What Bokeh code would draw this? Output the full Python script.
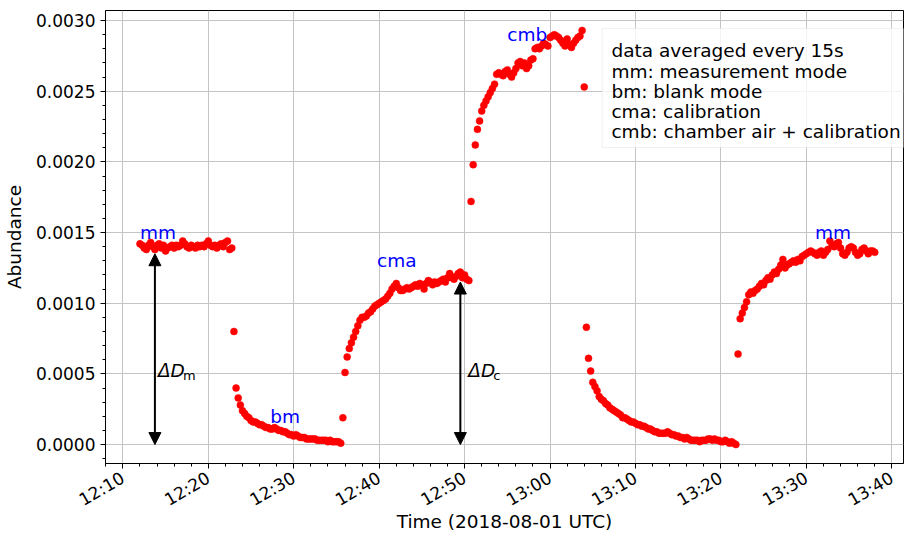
import math
from datetime import datetime, timezone
from bokeh.plotting import figure
from bokeh.models import (ColumnDataSource, FixedTicker, DatetimeTickFormatter,
                          PrintfTickFormatter, Range1d, Label, Arrow, NormalHead,
                          BoxAnnotation)
from bokeh.embed import file_html
from bokeh.resources import INLINE

# ---------------- data (15 s averages, 2018-08-01 UTC) ----------------
STEP_S = 15

mm1_start = "12:12:00"
mm1 = [0.00142, 0.00141, 0.00139, 0.00138, 0.00141, 0.00143, 0.00140, 0.00138,
       0.00141, 0.00142, 0.00139, 0.00141, 0.00137, 0.00139, 0.00140, 0.00141,
       0.00139, 0.00141, 0.00140, 0.00141, 0.00144, 0.00142, 0.00140, 0.00139,
       0.00141, 0.00140, 0.00139, 0.00141, 0.00140, 0.00141, 0.00140, 0.00142,
       0.00144, 0.00141, 0.00140, 0.00141, 0.00139, 0.00141, 0.00142, 0.00140,
       0.00143, 0.00144, 0.00138, 0.00139, 0.00080]

bm1_start = "12:23:15"
bm1 = [0.00040, 0.00033, 0.00028, 0.00024, 0.00022, 0.00020, 0.00019, 0.00017,
       0.00016, 0.00016, 0.00015, 0.00014, 0.00014, 0.00013, 0.00012, 0.00012,
       0.00011, 0.00011, 0.00012, 0.00011, 0.00010, 0.00010, 0.00009, 0.00009,
       0.00008, 0.00007, 0.00007, 0.00006, 0.00007, 0.00006, 0.00005, 0.00005,
       0.00005, 0.00004, 0.00004, 0.00004, 0.00004, 0.00004, 0.00003, 0.00003,
       0.00003, 0.00003, 0.00003, 0.00002, 0.00003, 0.00002, 0.00002, 0.00002,
       0.00002, 0.00001, 0.00019]

cma_start = "12:36:00"
cma = [0.00051, 0.00062, 0.00068, 0.00072, 0.00076, 0.00080, 0.00084, 0.00088,
       0.00090, 0.00090, 0.00091, 0.00093, 0.00094, 0.00096, 0.00098, 0.00099,
       0.00100, 0.00101, 0.00102, 0.00103, 0.00105, 0.00107, 0.00110, 0.00112,
       0.00114, 0.00111, 0.00109, 0.00109, 0.00110, 0.00111, 0.00110, 0.00111,
       0.00112, 0.00113, 0.00112, 0.00114, 0.00113, 0.00110, 0.00114, 0.00116,
       0.00115, 0.00113, 0.00115, 0.00114, 0.00115, 0.00116, 0.00117, 0.00115,
       0.00118, 0.00121, 0.00118, 0.00117, 0.00119, 0.00121, 0.00122, 0.00118,
       0.00120, 0.00117, 0.00116]

cmb_start = "12:50:45"
cmb = [0.00172, 0.00198, 0.00212, 0.00223, 0.00229, 0.00236, 0.00240, 0.00243,
       0.00246, 0.00249, 0.00252, 0.00255, 0.00262, 0.00263, 0.00262, 0.00261,
       0.00264, 0.00265, 0.00262, 0.00260, 0.00263, 0.00266, 0.00270, 0.00271,
       0.00268, 0.00270, 0.00266, 0.00268, 0.00272, 0.00273, 0.00280, 0.00281,
       0.00280, 0.00282, 0.00284, 0.00283, 0.00282, 0.00288, 0.00289, 0.00290,
       0.00289, 0.00288, 0.00286, 0.00284, 0.00282, 0.00287, 0.00283, 0.00281,
       0.00284, 0.00286, 0.00288, 0.00289, 0.00293, 0.00253]

bm2_start = "13:04:15"
bm2 = [0.00083, 0.00061, 0.00052, 0.00044, 0.00041, 0.00038, 0.00034, 0.00032,
       0.00031, 0.00029, 0.00028, 0.00026, 0.00025, 0.00024, 0.00023, 0.00022,
       0.00021, 0.00019, 0.00019, 0.00018, 0.00017, 0.00016, 0.00016, 0.00015,
       0.00014, 0.00014, 0.00013, 0.00013, 0.00012, 0.00011, 0.00011, 0.00010,
       0.00009, 0.00009, 0.00008, 0.00008, 0.00008, 0.00008, 0.00009, 0.00008,
       0.00007, 0.00007, 0.00006, 0.00006, 0.00005, 0.00005, 0.00004, 0.00005,
       0.00004, 0.00003, 0.00003, 0.00003, 0.00003, 0.00002, 0.00003, 0.00003,
       0.00003, 0.00004, 0.00004, 0.00003, 0.00004, 0.00003, 0.00003, 0.00002,
       0.00002, 0.00003, 0.00002, 0.00001, 0.00002, 0.00001, 0.00000]

mm2_start = "13:22:00"
mm2 = [0.00064, 0.00089, 0.00093, 0.00097, 0.00101, 0.00106, 0.00108, 0.00107,
       0.00109, 0.00110, 0.00112, 0.00114, 0.00113, 0.00116, 0.00118, 0.00117,
       0.00120, 0.00122, 0.00121, 0.00124, 0.00127, 0.00131, 0.00125, 0.00127,
       0.00128, 0.00129, 0.00130, 0.00129, 0.00131, 0.00130, 0.00133, 0.00134,
       0.00135, 0.00136, 0.00137, 0.00136, 0.00135, 0.00134, 0.00136, 0.00137,
       0.00134, 0.00136, 0.00138, 0.00144, 0.00141, 0.00140, 0.00142, 0.00143,
       0.00139, 0.00135, 0.00134, 0.00136, 0.00139, 0.00140, 0.00139, 0.00136,
       0.00134, 0.00135, 0.00138, 0.00139, 0.00137, 0.00135, 0.00137, 0.00137,
       0.00136]

segments = [(mm1_start, mm1), (bm1_start, bm1), (cma_start, cma),
            (cmb_start, cmb), (bm2_start, bm2), (mm2_start, mm2)]

x_tick_labels = ["12:10", "12:20", "12:30", "12:40", "12:50", "13:00",
                 "13:10", "13:20", "13:30", "13:40"]
y_ticks = [0.0, 0.0005, 0.0010, 0.0015, 0.0020, 0.0025, 0.0030]

mode_labels = [("mm", "12:12:00", 0.0015), ("bm", "12:27:15", 0.0002),
               ("cma", "12:39:45", 0.0013), ("cmb", "12:55:00", 0.0029),
               ("mm", "13:31:00", 0.0015)]

info_lines = ["data averaged every 15s", "mm: measurement mode", "bm: blank mode",
              "cma: calibration", "cmb: chamber air + calibration"]

# delta arrows: (time, y_bottom, y_top, subscript, label offset px)
deltas = [("12:13:45", 0.0, 0.00135, "m", 3), ("12:49:30", 0.0, 0.00115, "c", 8)]


def ms(hms):
    h, m, s = (int(v) for v in hms.split(":"))
    return datetime(2018, 8, 1, h, m, s, tzinfo=timezone.utc).timestamp() * 1000.0


xs, ys = [], []
for start, vals in segments:
    t0 = ms(start)
    for i, v in enumerate(vals):
        xs.append(datetime.fromtimestamp((t0 + i * STEP_S * 1000) / 1000.0, tz=timezone.utc).replace(tzinfo=None))
        ys.append(v)

src = ColumnDataSource(data=dict(t=xs, a=ys))

FONT = "DejaVu Sans"

p = figure(width=904, height=536, x_axis_type="datetime",
           output_backend="svg", toolbar_location=None,
           min_border_left=105, min_border_right=1, min_border_top=10,
           min_border_bottom=73)
p.x_range = Range1d(ms("12:07:58"), ms("13:41:22"))
p.y_range = Range1d(-0.000134, 0.003071)

p.background_fill_color = "white"
p.border_fill_color = "white"
p.outline_line_color = "black"
p.outline_line_width = 1
p.outline_line_alpha = 1

# ticks
xmaj = [ms(l + ":00") for l in x_tick_labels]
xmin = [ms("12:08:00") + k * 120000 for k in range(0, 48)]
xticker = FixedTicker(ticks=xmaj, minor_ticks=xmin)
p.xaxis.ticker = xticker
p.xgrid.ticker = xticker
p.xaxis.formatter = DatetimeTickFormatter(minsec="%H:%M", minutes="%H:%M",
                                          hourmin="%H:%M", hours="%H:%M",
                                          days="%H:%M")
yminor = [round(-0.0001 + k * 0.0001, 4) for k in range(0, 33)]
yticker = FixedTicker(ticks=y_ticks, minor_ticks=yminor)
p.yaxis.ticker = yticker
p.ygrid.ticker = yticker
p.yaxis.formatter = PrintfTickFormatter(format="%.4f")

for ax in (p.xaxis, p.yaxis):
    ax.major_label_text_font = FONT
    ax.major_label_text_font_size = "17px"
    ax.major_label_text_color = "black"
    ax.axis_label_text_font = FONT
    ax.axis_label_text_font_size = "18.5px"
    ax.axis_label_text_font_style = "normal"
    ax.axis_label_text_color = "black"
    ax.major_tick_out = 5
    ax.major_tick_in = 0
    ax.minor_tick_out = 3
    ax.minor_tick_in = 0
    ax.major_tick_line_color = "black"
    ax.minor_tick_line_color = "black"
    ax.axis_line_color = "black"

p.xaxis.major_label_orientation = math.pi / 6
p.xaxis.axis_label = "Time (2018-08-01 UTC)"
p.yaxis.axis_label = "Abundance"
p.xaxis.major_label_standoff = 8
p.xaxis.axis_label_standoff = -10
p.yaxis.axis_label_standoff = 8

for g in (p.xgrid, p.ygrid):
    g.grid_line_color = "#c4c4c4"
    g.grid_line_width = 1

p.scatter("t", "a", source=src, size=7, fill_color="#ff0000",
          line_color="#ff0000", line_width=0.5)

for txt, tm, yv in mode_labels:
    p.add_layout(Label(x=ms(tm), y=yv, text=txt, text_color="#0000ff",
                       text_font=FONT, text_font_size="18.5px",
                       text_baseline="alphabetic", text_align="left"))

for tm, y0, y1, sub, off in deltas:
    p.add_layout(Arrow(x_start=ms(tm), y_start=y0, x_end=ms(tm), y_end=y1,
                       line_color="black", line_width=2,
                       start=NormalHead(size=12, fill_color="black", line_color="black"),
                       end=NormalHead(size=12, fill_color="black", line_color="black")))
    p.add_layout(Label(x=ms(tm), y=0.000526, x_offset=off, text="\u0394D",
                       text_font=FONT, text_font_size="18.5px",
                       text_font_style="italic", text_color="black",
                       text_baseline="alphabetic"))
    p.add_layout(Label(x=ms(tm), y=0.000526, x_offset=off + 25, y_offset=-5, text=sub,
                       text_font=FONT, text_font_size="13px",
                       text_color="black", text_baseline="alphabetic"))

# info box
p.add_layout(BoxAnnotation(left=ms("13:06:06"), right=ms("13:50:00"),
                           top=0.002943, bottom=0.002102,
                           fill_color="white", fill_alpha=0.8,
                           line_color="#cccccc", line_width=1, level="overlay"))
for k, line in enumerate(info_lines):
    p.add_layout(Label(x=ms("13:07:11"), y=0.002786 - k * 0.0001435, text=line,
                       text_font=FONT, text_font_size="18.5px",
                       text_color="black", text_baseline="alphabetic",
                       level="overlay"))

open("out.html", "w").write(file_html(p, INLINE))
